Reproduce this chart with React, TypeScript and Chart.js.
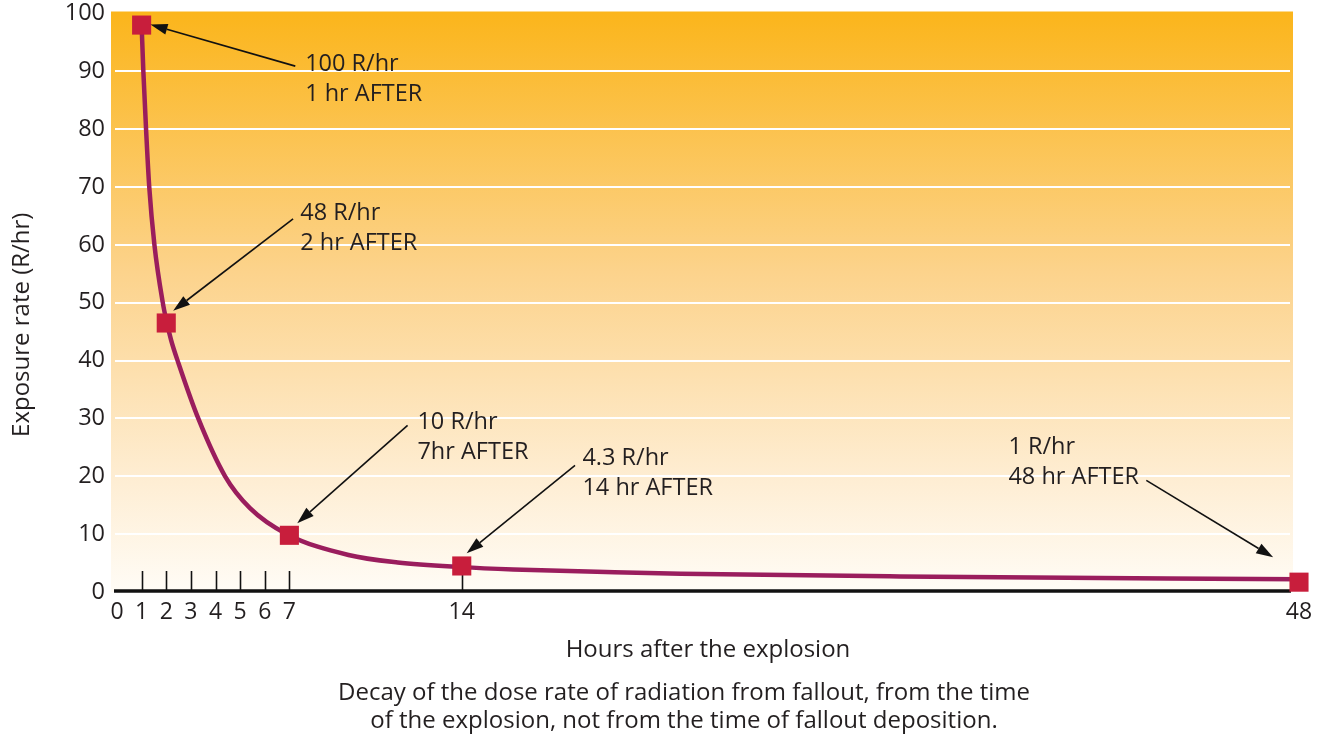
import React, { useEffect, useRef } from 'react';
import { Chart, registerables } from 'chart.js';

Chart.register(...registerables);

// ---- Data ----
const curveHours = [1, 1.07, 1.18, 1.31, 1.52, 1.86, 2.0, 2.2, 2.5, 3.3, 4.39, 5.4, 6.9, 9.4, 11.4, 14, 16.1, 20.2, 22.9, 31.8, 48];
const curveRates = [98, 90, 80, 70, 60, 50, 47, 43.5, 39.5, 30, 20, 14.5, 10, 6.4, 5.1, 4.3, 3.9, 3.4, 3.15, 2.7, 2.2];

const markerHours = [1, 2, 7, 14, 48];
const markerRates = [98, 46.5, 9.8, 4.5, 1.7];

const xTickValues = [0, 1, 2, 3, 4, 5, 6, 7, 14, 48];
const tickMarkHours = [1, 2, 3, 4, 5, 6, 7, 14];
const yGridValues = [10, 20, 30, 40, 50, 60, 70, 80, 90];

const annotationRates = ['100 R/hr', '48 R/hr', '10 R/hr', '4.3 R/hr', '1 R/hr'];
const annotationTimes = ['1 hr AFTER', '2 hr AFTER', '7hr AFTER', '14 hr AFTER', '48 hr AFTER'];

const xTitle = 'Hours after the explosion';
const yTitle = 'Exposure rate (R/hr)';
const captionLines = [
  'Decay of the dose rate of radiation from fallout, from the time',
  'of the explosion, not from the time of fallout deposition.',
];

// ---- Layout of annotations (in data coordinates: hours, R/hr) ----
const annotationLayout = [
  { text: [7.64, 91.2], from: [7.24, 90.9], to: [1.36, 98.1] },
  { text: [7.44, 65.5], from: [7.15, 64.5], to: [2.28, 48.6] },
  { text: [12.2, 29.3], from: [11.8, 28.8], to: [7.32, 11.9] },
  { text: [18.9, 23.1], from: [18.6, 21.9], to: [14.2, 6.7] },
  { text: [36.2, 25.0], from: [41.8, 19.3], to: [46.95, 6.0] },
];

const FONT = "'Open Sans', 'Noto Sans', sans-serif";
const TEXT_COLOR = '#231f20';

const decorPlugin = {
  id: 'decor',
  beforeDatasetsDraw(chart: any) {
    const { ctx, chartArea: a, scales } = chart;
    const x = scales.x;
    const y = scales.y;
    const top = a.top - 2;
    const bottom = y.getPixelForValue(0);
    ctx.save();
    const g = ctx.createLinearGradient(0, top, 0, bottom);
    g.addColorStop(0, '#fbb51b');
    g.addColorStop(0.45, '#fcd38c');
    g.addColorStop(0.8, '#feedd2');
    g.addColorStop(1, '#fffcf6');
    ctx.fillStyle = g;
    ctx.fillRect(a.left - 6, top, a.right - a.left, bottom - top);

    ctx.strokeStyle = '#ffffff';
    ctx.lineWidth = 2;
    for (const v of yGridValues) {
      const py = Math.round(y.getPixelForValue(v));
      ctx.beginPath();
      ctx.moveTo(a.left - 2, py);
      ctx.lineTo(a.right - 9, py);
      ctx.stroke();
    }

    // axis line
    ctx.strokeStyle = '#111111';
    ctx.lineWidth = 3.5;
    ctx.beginPath();
    ctx.moveTo(a.left - 3, bottom - 1);
    ctx.lineTo(a.right - 8, bottom - 1);
    ctx.stroke();

    // tick marks
    ctx.lineWidth = 1.6;
    for (const h of tickMarkHours) {
      const px = Math.round(x.getPixelForValue(h)) + 0.5;
      ctx.beginPath();
      ctx.moveTo(px, bottom - 21);
      ctx.lineTo(px, bottom - 2);
      ctx.stroke();
    }
    ctx.restore();
  },
  afterDatasetsDraw(chart: any) {
    const { ctx, chartArea: a, scales } = chart;
    const x = scales.x;
    const y = scales.y;
    ctx.save();
    ctx.fillStyle = TEXT_COLOR;
    ctx.strokeStyle = '#111111';
    ctx.font = `23.5px ${FONT}`;
    ctx.textBaseline = 'middle';
    ctx.textAlign = 'left';
    annotationLayout.forEach((an, i) => {
      const tx = x.getPixelForValue(an.text[0]);
      const ty = y.getPixelForValue(an.text[1]);
      ctx.fillText(annotationRates[i], tx, ty);
      ctx.fillText(annotationTimes[i], tx, ty + 30);
      const x1 = x.getPixelForValue(an.from[0]);
      const y1 = y.getPixelForValue(an.from[1]);
      const x2 = x.getPixelForValue(an.to[0]);
      const y2 = y.getPixelForValue(an.to[1]);
      const ang = Math.atan2(y2 - y1, x2 - x1);
      const headLen = 17;
      const headW = 5.5;
      const bx = x2 - headLen * Math.cos(ang);
      const by = y2 - headLen * Math.sin(ang);
      ctx.lineWidth = 1.6;
      ctx.beginPath();
      ctx.moveTo(x1, y1);
      ctx.lineTo(bx, by);
      ctx.stroke();
      ctx.beginPath();
      ctx.moveTo(x2, y2);
      ctx.lineTo(bx + headW * Math.sin(ang), by - headW * Math.cos(ang));
      ctx.lineTo(bx - headW * Math.sin(ang), by + headW * Math.cos(ang));
      ctx.closePath();
      ctx.fillStyle = '#111111';
      ctx.fill();
      ctx.fillStyle = TEXT_COLOR;
    });

    // y title
    ctx.save();
    ctx.translate(22, (a.top + a.bottom) / 2 + 22);
    ctx.rotate(-Math.PI / 2);
    ctx.textAlign = 'center';
    ctx.font = `24px ${FONT}`;
    ctx.fillText(yTitle, 0, 0);
    ctx.restore();

    // caption
    ctx.textAlign = 'center';
    ctx.font = `24px ${FONT}`;
    const cx = (a.left + a.right) / 2 - 24;
    captionLines.forEach((line, i) => {
      ctx.fillText(line, cx, chart.height - 47 + i * 28);
    });
    ctx.restore();
  },
};

export default function App() {
  const ref = useRef<HTMLCanvasElement | null>(null);
  useEffect(() => {
    if (!ref.current) return;
    const chart = new Chart(ref.current, {
      type: 'line',
      data: {
        datasets: [
          {
            label: 'curve',
            data: curveHours.map((h, i) => ({ x: h, y: curveRates[i] })),
            borderColor: '#9a1d5d',
            borderWidth: 4.5,
            pointRadius: 0,
            cubicInterpolationMode: 'monotone',
            fill: false,
            order: 2,
          },
          {
            label: 'points',
            data: markerHours.map((h, i) => ({ x: h, y: markerRates[i] })),
            showLine: false,
            pointStyle: 'rect',
            pointRadius: 13.5,
            pointBorderWidth: 0,
            pointBackgroundColor: '#c81e3c',
            backgroundColor: '#c81e3c',
            borderColor: '#c81e3c',
            order: 1,
          },
        ],
      },
      options: {
        responsive: true,
        maintainAspectRatio: false,
        animation: false,
        clip: false,
        layout: { padding: { top: 12, right: 26, left: 0, bottom: 72 } },
        plugins: {
          legend: { display: false },
          tooltip: { enabled: false },
        },
        scales: {
          x: {
            type: 'linear',
            min: 0,
            max: 48,
            grid: { display: false },
            border: { display: false },
            afterBuildTicks: (scale: any) => {
              scale.ticks = xTickValues.map((v) => ({ value: v }));
            },
            afterFit: (scale: any) => {
              scale.height = 76;
              scale.paddingLeft = 0;
              scale.paddingRight = 0;
            },
            ticks: {
              autoSkip: false,
              maxRotation: 0,
              padding: -1,
              color: TEXT_COLOR,
              font: { size: 23, family: FONT },
              callback: (v: any) => String(v),
            },
            title: {
              display: true,
              text: xTitle,
              color: TEXT_COLOR,
              font: { size: 24, family: FONT },
              padding: { top: 0, bottom: 3 },
            },
          },
          y: {
            min: 0,
            max: 100,
            grid: { display: false },
            border: { display: false },
            afterFit: (scale: any) => {
              scale.width = 117;
              scale.paddingTop = 0;
              scale.paddingBottom = 0;
            },
            ticks: {
              stepSize: 10,
              padding: 4,
              color: TEXT_COLOR,
              font: { size: 23.5, family: FONT },
            },
          },
        },
      },
      plugins: [decorPlugin],
    } as any);
    return () => chart.destroy();
  }, []);
  return (
    <div style={{ position: 'fixed', left: 0, top: 0, width: 1325, height: 740, background: '#fff' }}>
      <canvas ref={ref} />
    </div>
  );
}
